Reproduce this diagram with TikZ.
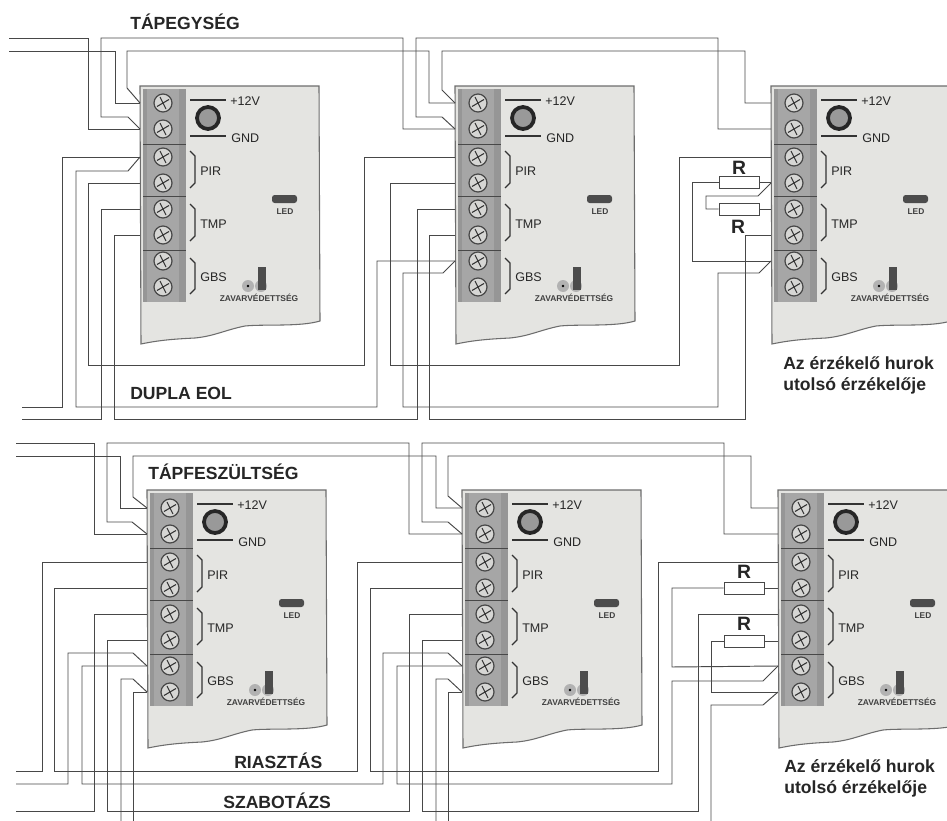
\documentclass[tikz,border=0pt]{standalone}
\usepackage{fontspec}
\setmainfont{Liberation Sans}
\definecolor{wirecol}{HTML}{484848}
\definecolor{boardcol}{HTML}{E4E4E1}
\definecolor{blockcol}{HTML}{A6A6A6}
\definecolor{stripecol}{HTML}{969696}
\definecolor{screwcol}{HTML}{D6D6D4}
\tikzset{
	wire/.style={wirecol, line width=0.72pt, line join=miter},
	boardedge/.style={fill=boardcol, draw=wirecol!80, line width=0.8pt},
	resistor/.style={draw=wirecol, fill=white, line width=0.72pt, minimum width=30pt, minimum height=9pt, inner sep=0pt},
	headline/.style={font=\bfseries\fontsize{13.2}{15}\selectfont, text=black!85, inner sep=0pt},
	rlabel/.style={font=\bfseries\fontsize{14.5}{15}\selectfont, text=black!85, inner sep=0pt},
	lastlabel/.style={font=\bfseries\fontsize{13.2}{15.8}\selectfont, text=black!85, inner sep=0pt, anchor=north west, align=left},
	boardlabel/.style={font=\fontsize{9.4}{11}\selectfont, text=black!85, inner sep=0pt, anchor=west},
	tinylabel/.style={font=\bfseries\fontsize{6.3}{7}\selectfont, text=black!75, inner sep=0pt}
}
\begin{document}
\begin{tikzpicture}[x=0.75pt, y=-0.75pt]
	\useasboundingbox (0,0) rectangle (947,821);
	\clip (0,0) rectangle (947,821);

	\foreach \bn/\bx/\by/\ty in {a/0/0/-1, b/315/0/-1, c/631/0/-1, d/7/404/0, e/322/404/0, f/638/404/0} {
		\begin{scope}[shift={(\bx,\by)}]
			\draw [boardedge] (140,86) -- (319,86) -- (320,321) .. controls (300,327) and (265,324) .. (245,326) .. controls (225,330) and (215,336) .. (195,338) .. controls (175,339) and (160,340) .. (141,344) -- cycle;
			\fill [blockcol] (143,89) rectangle (186,302);
			\fill [stripecol] (143,89) rectangle (147,302);
			\fill [stripecol] (179,89) rectangle (186,302);
			\draw [wirecol, line width=0.6pt] (143,144) -- (186,144);
			\draw [wirecol, line width=0.6pt] (143,196) -- (186,196);
			\draw [wirecol, line width=0.6pt] (143,250) -- (186,250);

			\foreach \sn/\sy in {1/104, 2/130, 3/158, 4/184, 5/210, 6/236, 7/262, 8/288} {
				\coordinate (\bn t\sn) at (140,\sy+\ty);
				\draw [fill=screwcol, draw=wirecol, line width=0.9pt] (163,\sy+\ty) circle [radius=9];
				\draw [black!80, line width=0.8pt] (157,\sy+\ty+3.5) -- (169,\sy+\ty-3.5);
				\draw [black!80, line width=0.8pt] (160,\sy+\ty-6) -- (166,\sy+\ty+6);
			}

			\draw [black!80, line width=1pt] (190,100) -- (226,100);
			\draw [black!80, line width=1pt] (190,136) -- (226,136);
			\draw [fill=black!40, draw=black!85, line width=2.8pt] (208,118) circle [radius=11];
			\node [boardlabel] (\bn vcc) at (230,101) {+12V};
			\node [boardlabel] (\bn gnd) at (231,138) {GND};

			\draw [black!80, line width=0.9pt] (190,151) -- (195,156) -- (195,183) -- (190,188);
			\draw [black!80, line width=0.9pt] (190,204) -- (195,209) -- (195,236) -- (190,241);
			\draw [black!80, line width=0.9pt] (190,258) -- (195,263) -- (195,289) -- (190,294);
			\node [boardlabel] (\bn pir) at (200,171) {PIR};
			\node [boardlabel] (\bn tmp) at (200,224) {TMP};
			\node [boardlabel] (\bn gbs) at (200,277) {GBS};

			\fill [black!70, rounded corners=2pt] (272,195) rectangle (297,203);
			\node [tinylabel] (\bn led) at (285,212) {LED};

			\fill [black!30] (248,286) circle [radius=6];
			\fill [black] (248,286) circle [radius=1.3];
			\fill [black!30] (261,286) circle [radius=6];
			\fill [black!70] (258,267) rectangle (266,290);
			\node [tinylabel] (\bn zav) at (259,298) {ZAVARVÉDETTSÉG};
		\end{scope}
	}

	\draw [wire] (9,38) -- (88,38) |- (at2);
	\draw [wire] (9,51) -- (115,51) |- (at1);
	\draw [wire] (at2) -- (128,117) -- (101,117) -- (101,38) -- (403,38) |- (bt2);
	\draw [wire] (at1) -- (127,88) -- (127,51) -- (429,51) |- (bt1);
	\draw [wire] (bt2) -- (442,117) -- (416,117) -- (416,38) -- (718,38) |- (ct2);
	\draw [wire] (bt1) -- (442,90) -- (442,51) -- (745,51) |- (ct1);

	\draw [wire] (22,407) -- (62,407) |- (at3);
	\draw [wire] (at3) -- (128,171) -- (76,171) -- (76,407) -- (377,407) |- (bt7);
	\draw [wire] (at4) -| (88,365) -- (364,365) |- (bt3);
	\draw [wire] (22,419) -- (101,419) |- (at5);
	\draw [wire] (at6) -| (114,419) -- (417,419) |- (bt5);
	\draw [wire] (bt4) -| (390,365) -- (679,365) |- (ct3);
	\draw [wire] (bt7) -- (443,273) -- (403,273) -- (403,407) -- (718,407) -- (718,273) -- (759,273) -- (ct7);
	\draw [wire] (bt6) -| (429,419) -- (745,419) |- (ct6);

	\node [resistor] (r1) at (739,182) {};
	\node [resistor] (r2) at (739,209) {};
	\coordinate (r1bend) at (692,261);
	\draw [wire] (r1.east) -- (ct4 |- r1.east);
	\draw [wire] (r2.east) -- (ct5 |- r2.east);
	\draw [wire] (r1.west) -| (r1bend) -- (ct7);
	\draw [wire] (r2.west) -- (706,209) -- (706,196) -- (758,196) -- (771,183);
	\node [rlabel] (r1lab) at (739,168) {R};
	\node [rlabel] (r2lab) at (738,227) {R};

	\draw [wire] (16,443) -- (94,443) |- (dt2);
	\draw [wire] (16,456) -- (120,456) |- (dt1);
	\draw [wire] (dt2) -- (132,522) -- (107,522) -- (107,443) -- (409,443) |- (et2);
	\draw [wire] (dt1) -- (133,497) -- (133,456) -- (436,456) |- (et1);
	\draw [wire] (et2) -- (448,522) -- (422,522) -- (422,443) -- (724,443) |- (ft2);
	\draw [wire] (et1) -- (448,496) -- (448,456) -- (751,456) |- (ft1);

	\draw [wire] (16,771) -- (42,771) |- (dt3);
	\draw [wire] (dt4) -| (54,771) -- (357,771) |- (et3);
	\draw [wire] (16,784) -- (68,784) -- (68,653) -- (133,653) -- (dt7);
	\draw [wire] (dt7) -| (82,784) -- (383,784) -- (383,653) -- (448,653) -- (et7);
	\draw [wire] (16,811) -- (94,811) |- (dt5);
	\draw [wire] (dt6) -| (107,811) -- (409,811) |- (et5);
	\draw [wire] (121,821) -- (121,679) -- (133,679) -- (dt8);
	\draw [wire] (dt8) -| (133,821);

	\draw [wire] (et4) -| (370,771) -- (658,771) |- (ft3);
	\draw [wire] (et7) -| (397,784) -- (672,784) -- (672,681) -- (763,681) -- (ft7);
	\draw [wire] (et6) -| (422,811) -- (698,811) |- (ft5);
	\draw [wire] (436,821) -- (436,679) -- (448,679) -- (et8);
	\draw [wire] (et8) -| (448,821);
	\draw [wire] (711,821) -- (711,705) -- (763,705) -- (ft8);

	\node [resistor] (r3) at (744,588) {};
	\node [resistor] (r4) at (744,641) {};
	\draw [wire] (r3.east) -- (ft4 |- r3.east);
	\draw [wire] (r4.east) -- (ft6 |- r4.east);
	\draw [wire] (r3.west) -| (672,667) -- (ft7);
	\draw [wire] (r4.west) -| (711,692) -- (ft8);
	\node [rlabel] (r3lab) at (744,572) {R};
	\node [rlabel] (r4lab) at (744,624) {R};

	\node [headline, anchor=west] (psu) at (130,22) {TÁPEGYSÉG};
	\node [headline, anchor=west] (eol) at (130,393) {DUPLA EOL};
	\node [headline, anchor=west] (feed) at (148,472) {TÁPFESZÜLTSÉG};
	\node [headline, anchor=west] (alarm) at (234,761) {RIASZTÁS};
	\node [headline, anchor=west] (tamper) at (223,801) {SZABOTÁZS};
	\node [lastlabel] (lastup) at (783,356) {Az érzékelő hurok\\utolsó érzékelője};
	\node [lastlabel] (lastdn) at (784,759) {Az érzékelő hurok\\utolsó érzékelője};
\end{tikzpicture}
\end{document}
